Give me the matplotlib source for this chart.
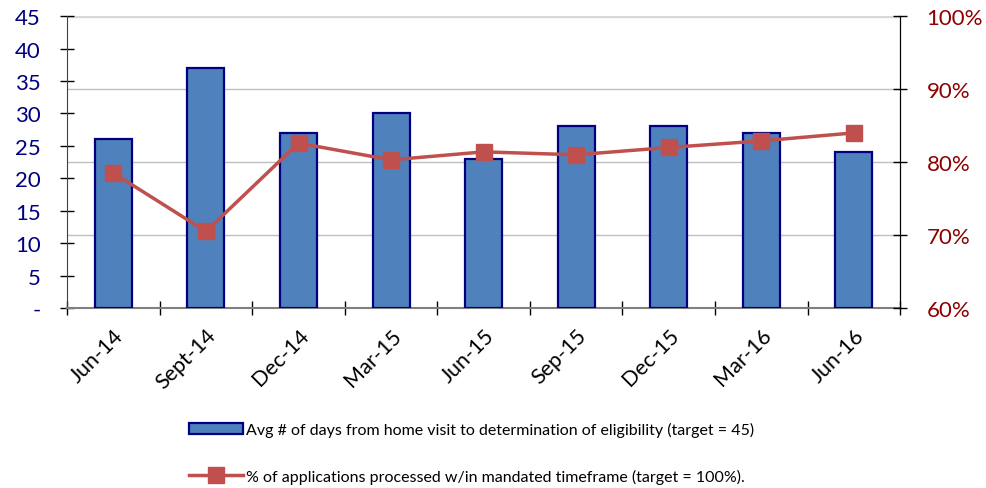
import numpy as np
import matplotlib.pyplot as plt
from matplotlib.ticker import FuncFormatter, FixedLocator

plt.rcParams['font.family'] = ['Lato', 'DejaVu Sans']

quarters = ['Jun-14', 'Sept-14', 'Dec-14', 'Mar-15', 'Jun-15',
            'Sep-15', 'Dec-15', 'Mar-16', 'Jun-16']
avg_days = [26, 37, 27, 30, 23, 28, 28, 27, 24]
pct_processed = [78.5, 70.5, 82.6, 80.3, 81.4, 81.0, 82.0, 82.9, 84.0]
pct_grid = [70, 80, 90]

bar_label = "Avg # of days from home visit to determination of eligibility (target = 45)"
line_label = "% of applications processed w/in mandated timeframe (target = 100%)."

fig, ax = plt.subplots(figsize=(9.87, 4.89), dpi=100)
fig.subplots_adjust(left=0.068, right=0.912, top=0.965, bottom=0.368)

x = np.arange(len(quarters))
bars = ax.bar(x, avg_days, width=0.4, color='#4F81BD', edgecolor='#000080',
              linewidth=1.6, label=bar_label, zorder=3)

ax2 = ax.twinx()
line, = ax2.plot(x, pct_processed, '-s', color='#C0504D', linewidth=2.5,
                 markersize=11, label=line_label, zorder=4)

ax.set_xlim(-0.5, len(quarters) - 0.5)
ax.set_ylim(0, 45)
ax2.set_ylim(60, 100)

# bars axis underneath, line axis on top
ax.set_zorder(ax2.get_zorder() - 1)
ax2.patch.set_visible(False)

# gridlines follow the right (percent) axis, drawn behind the bars
for v in pct_grid:
    ax.axhline((v - 60) / 40 * 45, color='#BFBFBF', linewidth=1.0, zorder=0)
ax.axhline(45, color='#D9D9D9', linewidth=2.5, zorder=0)

ax.set_yticks(np.arange(0, 46, 5))
ax.yaxis.set_major_formatter(FuncFormatter(lambda v, p: '-' if v == 0 else '%d' % v))
ax.tick_params(axis='y', colors='#000000', labelcolor='#000080', labelsize=16,
               direction='inout', length=10, width=1, pad=14)

ax2.set_yticks([60, 70, 80, 90, 100])
ax2.yaxis.set_major_formatter(FuncFormatter(lambda v, p: '%d%%' % v))
ax2.tick_params(axis='y', colors='#000000', labelcolor='#8B0000', labelsize=16,
                direction='inout', length=10, width=1, pad=14)

ax.set_xticks(x)
ax.set_xticklabels(quarters, rotation=45, ha='right', rotation_mode='anchor',
                   fontsize=15.5)
ax.tick_params(axis='x', length=0, pad=12)
ax.xaxis.set_minor_locator(FixedLocator(np.arange(-0.5, len(quarters), 1.0)))
ax.tick_params(axis='x', which='minor', direction='inout', length=10, width=1)

for a in (ax, ax2):
    a.spines['top'].set_visible(False)
ax.spines['left'].set_color('#404040')
ax.spines['bottom'].set_color('#808080')
ax.spines['bottom'].set_linewidth(1.5)
ax2.spines['right'].set_color('#000000')
ax2.spines['left'].set_visible(False)
ax2.spines['bottom'].set_visible(False)

fig.legend([bars, line], [bar_label, line_label], loc='upper center',
           bbox_to_anchor=(0.478, 0.165), ncol=1, frameon=False, fontsize=11.5,
           labelspacing=2.0, handlelength=3.4, handletextpad=0.2)

plt.savefig('out.png', dpi=100)
